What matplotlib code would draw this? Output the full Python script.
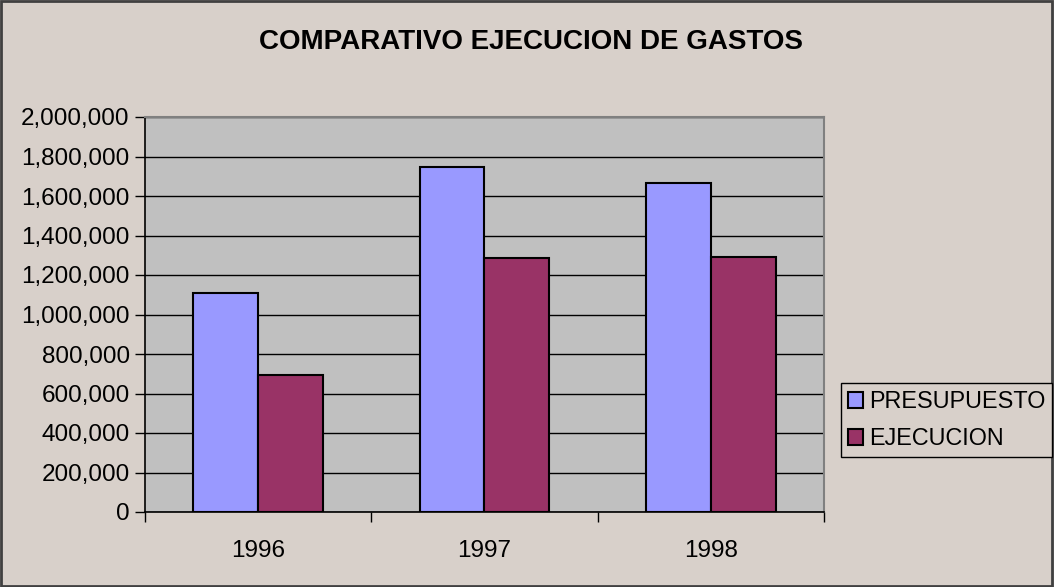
import numpy as np
import matplotlib.pyplot as plt
from matplotlib.patches import Rectangle

plt.rcParams['font.family'] = ['Liberation Sans', 'DejaVu Sans']

years = ['1996', '1997', '1998']
presupuesto = [1110000, 1747000, 1666000]
ejecucion = [695000, 1286000, 1291000]
yticks = np.arange(0, 2000001, 200000)

bg = '#d8d0ca'
fig = plt.figure(figsize=(10.54, 5.87), dpi=100, facecolor=bg)
ax = fig.add_axes([145/1054, 1-512/587, (824-145)/1054, (512-117)/587])
ax.set_facecolor('#c0c0c0')

x = np.arange(len(years))
w = 0.287
ax.bar(x - w/2, presupuesto, w, color='#9999ff', edgecolor='black', lw=1.5, label='PRESUPUESTO', zorder=3)
ax.bar(x + w/2, ejecucion, w, color='#993366', edgecolor='black', lw=1.5, label='EJECUCION', zorder=3)

ax.set_xlim(-0.5, 2.5)
ax.set_ylim(0, 2000000)
ax.set_yticks(yticks)
ax.set_yticklabels(['{:,}'.format(v) for v in yticks], fontsize=17.5)
ax.set_xticks(x)
ax.set_xticklabels(years, fontsize=17.5)
ax.set_xticks([-0.5, 0.5, 1.5, 2.5], minor=True)
ax.tick_params(axis='x', which='major', length=0, pad=20)
ax.tick_params(axis='x', which='minor', length=7, width=1, direction='out')
ax.tick_params(axis='y', length=7, width=1, direction='out', pad=4)
ax.grid(axis='y', color='black', lw=1, zorder=1)

for s in ['left', 'bottom']:
    ax.spines[s].set_color('black')
    ax.spines[s].set_linewidth(1.2)
for s in ['top', 'right']:
    ax.spines[s].set_color('#808080')
    ax.spines[s].set_linewidth(1.5)

fig.suptitle('COMPARATIVO EJECUCION DE GASTOS', x=531/1054, y=1-42/587, va='center',
             fontsize=20, fontweight='bold')

leg = fig.legend(loc='upper left', bbox_to_anchor=(841/1054, 1-383/587), borderaxespad=0,
                 fontsize=16.8, handlelength=0.64, handleheight=0.64, handletextpad=0.25,
                 borderpad=0.3, labelspacing=0.6, fancybox=False, framealpha=1,
                 facecolor=bg, edgecolor='black')
leg.get_frame().set_linewidth(1)

fig.patches.append(Rectangle((0.001, 0.002), 0.997, 0.996, transform=fig.transFigure,
                             fill=False, edgecolor='#404040', lw=2))

fig.savefig('out.png', dpi=100, facecolor=bg)
